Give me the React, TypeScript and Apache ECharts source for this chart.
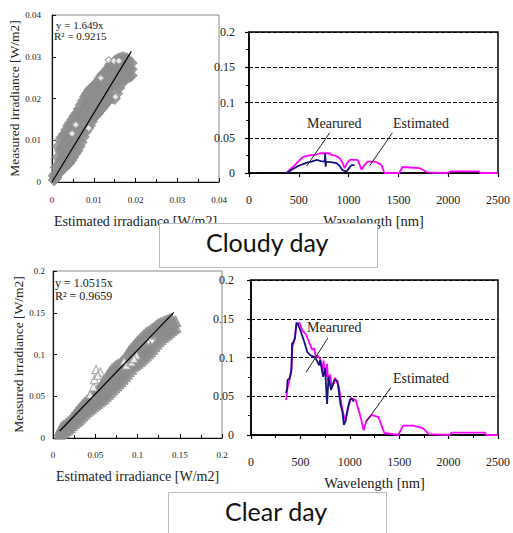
import React, { useEffect, useRef } from "react";
import * as echarts from "echarts";

// ---------- Top (cloudy day) scatter ----------
const cloudyCore: [number, number][] = [
  [0.0005, 0.0005], [0.0005, 0.0015],
  [0.001, 0.001], [0.001, 0.002], [0.001, 0.0035],
  [0.0015, 0.002], [0.0015, 0.004], [0.0015, 0.006], [0.0015, 0.0085],
  [0.002, 0.003], [0.002, 0.005], [0.002, 0.0075], [0.002, 0.01],
  [0.0025, 0.0032], [0.0025, 0.0058], [0.0025, 0.0083], [0.0025, 0.0108],
  [0.003, 0.0035], [0.003, 0.006], [0.003, 0.009], [0.003, 0.0115],
  [0.0035, 0.0042], [0.0035, 0.0068], [0.0035, 0.0098], [0.0035, 0.0125],
  [0.004, 0.0045], [0.004, 0.0075], [0.004, 0.0105], [0.004, 0.0135],
  [0.0045, 0.0052], [0.0045, 0.0082], [0.0045, 0.0112], [0.0045, 0.0142],
  [0.005, 0.006], [0.005, 0.009], [0.005, 0.012], [0.005, 0.015],
  [0.0055, 0.0068], [0.0055, 0.0098], [0.0055, 0.0128], [0.0055, 0.0158],
  [0.006, 0.0075], [0.006, 0.0105], [0.006, 0.0135], [0.006, 0.0165],
  [0.0065, 0.0085], [0.0065, 0.0115], [0.0065, 0.0145], [0.0065, 0.0175],
  [0.007, 0.0095], [0.007, 0.0125], [0.007, 0.0155], [0.007, 0.0185],
  [0.0075, 0.0108], [0.0075, 0.0138], [0.0075, 0.0165], [0.0075, 0.0195],
  [0.008, 0.012], [0.008, 0.015], [0.008, 0.0175], [0.008, 0.0205],
  [0.0085, 0.0128], [0.0085, 0.0158], [0.0085, 0.0185], [0.0085, 0.0212],
  [0.009, 0.0135], [0.009, 0.0165], [0.009, 0.0195], [0.009, 0.022],
  [0.0095, 0.0145], [0.0095, 0.0172], [0.0095, 0.02], [0.0095, 0.0225],
  [0.01, 0.0155], [0.01, 0.018], [0.01, 0.0205], [0.01, 0.0228],
  [0.0105, 0.016], [0.0105, 0.0185], [0.0105, 0.021], [0.0105, 0.0234],
  [0.011, 0.0165], [0.011, 0.019], [0.011, 0.0215], [0.011, 0.024],
  [0.0115, 0.0172], [0.0115, 0.0198], [0.0115, 0.0222], [0.0115, 0.0248],
  [0.012, 0.0178], [0.012, 0.0205], [0.012, 0.023], [0.012, 0.0255],
  [0.0125, 0.0184], [0.0125, 0.0212], [0.0125, 0.0238], [0.0125, 0.026],
  [0.013, 0.019], [0.013, 0.022], [0.013, 0.0245], [0.013, 0.0265],
  [0.0135, 0.0198], [0.0135, 0.0225], [0.0135, 0.025], [0.0135, 0.0272],
  [0.014, 0.0205], [0.014, 0.023], [0.014, 0.0255], [0.014, 0.028],
  [0.0145, 0.0202], [0.0145, 0.0232], [0.0145, 0.026], [0.0145, 0.0284],
  [0.015, 0.02], [0.015, 0.0235], [0.015, 0.0265], [0.015, 0.0288],
  [0.0155, 0.0212], [0.0155, 0.0242], [0.0155, 0.027], [0.0155, 0.0292],
  [0.016, 0.0225], [0.016, 0.025], [0.016, 0.0275], [0.016, 0.0295],
  [0.0165, 0.0235], [0.0165, 0.0258], [0.0165, 0.028], [0.0165, 0.0296],
  [0.017, 0.0245], [0.017, 0.0265], [0.017, 0.0285], [0.017, 0.0298],
  [0.0175, 0.0248], [0.0175, 0.0268], [0.0175, 0.0285], [0.0175, 0.0296],
  [0.018, 0.025], [0.018, 0.027], [0.018, 0.0285], [0.018, 0.0295],
  [0.0185, 0.0252], [0.0185, 0.027], [0.0185, 0.0286],
  [0.019, 0.0255], [0.019, 0.027], [0.019, 0.0285],
];
const cloudyOutliers: [number, number][] = [
  [0.0136, 0.0292], [0.0148, 0.029], [0.016, 0.029], [0.0117, 0.0249],
  [0.0152, 0.0204], [0.0088, 0.0129], [0.0057, 0.0137], [0.0048, 0.0116],
];
const cloudyFit: [number, number][] = [[0, 0], [0.019, 0.0313]];

// ---------- Bottom (clear day) scatter ----------
const clearCore: [number, number][] = [
  [0.008, 0.005], [0.008, 0.009],
  [0.01, 0.006], [0.01, 0.01], [0.01, 0.013],
  [0.0125, 0.0075], [0.0125, 0.0115], [0.0125, 0.015],
  [0.015, 0.009], [0.015, 0.013], [0.015, 0.017],
  [0.0175, 0.011], [0.0175, 0.015], [0.0175, 0.019],
  [0.02, 0.013], [0.02, 0.017], [0.02, 0.021],
  [0.0225, 0.0155], [0.0225, 0.02], [0.0225, 0.0245],
  [0.025, 0.018], [0.025, 0.023], [0.025, 0.028],
  [0.0275, 0.02], [0.0275, 0.0255], [0.0275, 0.031],
  [0.03, 0.022], [0.03, 0.028], [0.03, 0.034],
  [0.0325, 0.0245], [0.0325, 0.0305], [0.0325, 0.037],
  [0.035, 0.027], [0.035, 0.033], [0.035, 0.04],
  [0.0375, 0.0295], [0.0375, 0.0355], [0.0375, 0.0425],
  [0.04, 0.032], [0.04, 0.038], [0.04, 0.045],
  [0.0425, 0.034], [0.0425, 0.0405], [0.0425, 0.0475],
  [0.045, 0.036], [0.045, 0.043], [0.045, 0.05],
  [0.0475, 0.038], [0.0475, 0.045], [0.0475, 0.0525],
  [0.05, 0.04], [0.05, 0.047], [0.05, 0.055],
  [0.0525, 0.042], [0.0525, 0.0495], [0.0525, 0.0575],
  [0.055, 0.044], [0.055, 0.052], [0.055, 0.06],
  [0.0575, 0.046], [0.0575, 0.055], [0.0575, 0.064],
  [0.06, 0.048], [0.06, 0.058], [0.06, 0.068],
  [0.0625, 0.0505], [0.0625, 0.061], [0.0625, 0.072],
  [0.065, 0.053], [0.065, 0.064], [0.065, 0.076],
  [0.0675, 0.0555], [0.0675, 0.067], [0.0675, 0.0795],
  [0.07, 0.058], [0.07, 0.07], [0.07, 0.083],
  [0.0725, 0.0605], [0.0725, 0.0725], [0.0725, 0.085],
  [0.075, 0.063], [0.075, 0.075], [0.075, 0.087],
  [0.0775, 0.0655], [0.0775, 0.077], [0.0775, 0.0885],
  [0.08, 0.068], [0.08, 0.079], [0.08, 0.09],
  [0.0825, 0.071], [0.0825, 0.082], [0.0825, 0.093],
  [0.085, 0.074], [0.085, 0.085], [0.085, 0.096],
  [0.0875, 0.077], [0.0875, 0.0885], [0.0875, 0.1],
  [0.09, 0.08], [0.09, 0.092], [0.09, 0.104],
  [0.0925, 0.083], [0.0925, 0.095], [0.0925, 0.107],
  [0.095, 0.086], [0.095, 0.098], [0.095, 0.11],
  [0.0975, 0.088], [0.0975, 0.1005], [0.0975, 0.113],
  [0.1, 0.09], [0.1, 0.103], [0.1, 0.116],
  [0.1025, 0.092], [0.1025, 0.1055], [0.1025, 0.1185],
  [0.105, 0.094], [0.105, 0.108], [0.105, 0.121],
  [0.1075, 0.0965], [0.1075, 0.109], [0.1075, 0.1235],
  [0.11, 0.099], [0.11, 0.11], [0.11, 0.126],
  [0.1125, 0.1015], [0.1125, 0.1275],
  [0.115, 0.104], [0.115, 0.109], [0.115, 0.129],
  [0.1175, 0.107], [0.1175, 0.131],
  [0.12, 0.11], [0.12, 0.133],
  [0.1225, 0.113], [0.1225, 0.125], [0.1225, 0.135],
  [0.125, 0.116], [0.125, 0.128], [0.125, 0.137],
  [0.1275, 0.1185], [0.1275, 0.1295], [0.1275, 0.138],
  [0.13, 0.121], [0.13, 0.131], [0.13, 0.139],
  [0.1325, 0.123], [0.1325, 0.1325], [0.1325, 0.14],
  [0.135, 0.125], [0.135, 0.134], [0.135, 0.141],
  [0.1375, 0.127], [0.1375, 0.1355], [0.1375, 0.142],
  [0.14, 0.129], [0.14, 0.137], [0.14, 0.143],
  [0.1425, 0.131], [0.1425, 0.1385],
  [0.145, 0.133], [0.145, 0.14],
];
const clearOutliers: [number, number][] = [
  [0.044, 0.052], [0.048, 0.061], [0.049, 0.07], [0.051, 0.082],
  [0.056, 0.079], [0.053, 0.075], [0.087, 0.087], [0.093, 0.091],
  [0.099, 0.099], [0.084, 0.092], [0.096, 0.095],
];
const clearFit: [number, number][] = [[0.008, 0.0084], [0.143, 0.1504]];

// ---------- Spectra ----------
const cloudyEstimated: [number, number][] = [
  [377, 0], [420, 0.006], [460, 0.0113], [500, 0.017], [543, 0.0227], [590, 0.0245],
  [630, 0.0255], [680, 0.0262], [710, 0.028], [760, 0.028], [810, 0.028], [830, 0.0255],
  [870, 0.0245], [910, 0.021], [935, 0.016], [960, 0.007], [985, 0.014], [1010, 0.0185],
  [1050, 0.0185], [1090, 0.0185], [1110, 0.012], [1130, 0.0047], [1160, 0.0113],
  [1190, 0.016], [1260, 0.016], [1300, 0.014], [1330, 0.0113], [1360, 0], [1510, 0],
  [1540, 0.0085], [1620, 0.0078], [1710, 0.007], [1790, 0.001], [1990, 0],
  [2030, 0.0024], [2310, 0.0024], [2320, 0], [2500, 0],
];
const cloudyMeasured: [number, number][] = [
  [377, 0], [420, 0.004], [480, 0.009], [530, 0.012], [580, 0.0147], [630, 0.016],
  [680, 0.0185], [720, 0.017], [760, 0.016], [765, 0.028], [770, 0.009], [775, 0.016],
  [820, 0.0155], [880, 0.014], [910, 0.01], [940, 0.004], [980, 0.002], [1010, 0.008],
  [1030, 0.0113], [1060, 0.0113],
];
const clearEstimated: [number, number][] = [
  [355, 0.045], [370, 0.061], [390, 0.071], [410, 0.088], [420, 0.114], [440, 0.123],
  [460, 0.142], [490, 0.145], [520, 0.135], [560, 0.129], [590, 0.119], [620, 0.11],
  [640, 0.112], [655, 0.1], [670, 0.103], [700, 0.098], [710, 0.093], [725, 0.082],
  [735, 0.096], [740, 0.088], [750, 0.085], [760, 0.075], [770, 0.092], [780, 0.07],
  [790, 0.075], [800, 0.078], [820, 0.062], [840, 0.068], [850, 0.074], [860, 0.071],
  [890, 0.062], [920, 0.036], [950, 0.019], [970, 0.028], [1010, 0.048], [1060, 0.045],
  [1110, 0.023], [1140, 0.006], [1170, 0.019], [1220, 0.026], [1290, 0.023],
  [1350, 0.0026], [1490, 0], [1540, 0.012], [1640, 0.012], [1740, 0.009], [1800, 0.001],
  [2010, 0], [2030, 0.003], [2370, 0.003], [2380, 0], [2500, 0],
];
const clearMeasured: [number, number][] = [
  [355, 0.054], [365, 0.06], [370, 0.071], [390, 0.073], [405, 0.08], [410, 0.085],
  [415, 0.118], [430, 0.12], [445, 0.125], [460, 0.145], [475, 0.143], [500, 0.135],
  [540, 0.12], [570, 0.107], [600, 0.103], [650, 0.1], [670, 0.095], [690, 0.09],
  [700, 0.097], [730, 0.075], [750, 0.086], [770, 0.04], [785, 0.075], [810, 0.058],
  [845, 0.071], [875, 0.07], [905, 0.04], [925, 0.03], [940, 0.013], [960, 0.019],
  [980, 0.035], [1000, 0.045], [1020, 0.047], [1040, 0.043],
];

// annotation arrows (data coordinates): [from, to]
const cloudyArrows: [number, number][][] = [
  [[810, 0.057], [580, 0.01]],
  [[1440, 0.057], [1210, 0.01]],
];
const clearArrows: [number, number][][] = [
  [[777, 0.125], [558, 0.081]],
  [[1414, 0.061], [1165, 0.017]],
];

const SERIF = "Liberation Serif";
const SANS = "Lato";
const plain = (v: number) => String(v);

function scatterX(idx: number, max: number, interval: number, margin: number, gap: number) {
  return {
    type: "value", gridIndex: idx, min: 0, max, interval,
    name: "Estimated irradiance [W/m2]", nameLocation: "middle", nameGap: gap,
    nameTextStyle: { fontFamily: SERIF, fontSize: 14, color: "#222" },
    axisLine: { show: true, lineStyle: { color: "#111", width: 1.2 } },
    axisTick: { show: true, inside: true, length: 4, lineStyle: { color: "#111" } },
    minorTick: { show: true, splitNumber: 2, length: 3, lineStyle: { color: "#111" } },
    axisLabel: { fontFamily: SERIF, fontSize: 9, color: "#222", margin, formatter: plain },
    splitLine: { show: false },
  };
}
function scatterY(idx: number, max: number, interval: number, margin: number, gap: number) {
  return {
    type: "value", gridIndex: idx, min: 0, max, interval,
    name: "Measured irradiance [W/m2]", nameLocation: "middle", nameGap: gap,
    nameTextStyle: { fontFamily: SERIF, fontSize: 13.5, color: "#222" },
    axisLine: { show: true, lineStyle: { color: "#111", width: 1.2 } },
    axisTick: { show: true, inside: true, length: 4, lineStyle: { color: "#111" } },
    axisLabel: { fontFamily: SERIF, fontSize: 9, color: "#222", margin, formatter: plain },
    splitLine: { show: false },
  };
}
function specX(idx: number, minor: boolean) {
  return {
    type: "value", gridIndex: idx, min: 0, max: 2500, interval: 500,
    name: "Wavelength [nm]", nameLocation: "middle", nameGap: 40,
    nameTextStyle: { fontFamily: SERIF, fontSize: 14.5, color: "#222" },
    axisLine: { show: true, lineStyle: { color: "#000", width: 1.5 } },
    axisTick: { show: true, length: 4, lineStyle: { color: "#000", width: 1.2 } },
    minorTick: { show: minor, splitNumber: 2, length: 3, lineStyle: { color: "#000" } },
    axisLabel: { fontFamily: SERIF, fontSize: 12, color: "#222", margin: 21, formatter: plain },
    splitLine: { show: false },
  };
}
function specY(idx: number, margin: number) {
  return {
    type: "value", gridIndex: idx, min: 0, max: 0.2, interval: 0.05,
    axisLine: { show: true, lineStyle: { color: "#000", width: 1.5 } },
    axisTick: { show: true, length: 4, lineStyle: { color: "#000", width: 1.2 } },
    minorTick: { show: true, splitNumber: 2, length: 3, lineStyle: { color: "#000" } },
    axisLabel: { fontFamily: SERIF, fontSize: 12, color: "#222", margin, formatter: plain },
    splitLine: { show: true, lineStyle: { color: "#000", type: [4, 2], width: 1.2 } },
  };
}

function arrowLine(arrows: [number, number][][]) {
  return {
    silent: true,
    symbol: ["none", "arrow"],
    symbolSize: [0, 8],
    label: { show: false },
    lineStyle: { color: "#222", width: 1, type: "solid" },
    data: arrows.map((a) => [{ coord: a[0] }, { coord: a[1] }]),
  };
}

export default function App() {
  const ref = useRef<HTMLDivElement>(null);
  useEffect(() => {
    document.body.style.margin = "0";
    const chart = echarts.init(ref.current!, null, { renderer: "svg" });
    const option: any = {
      animation: false,
      backgroundColor: "#fff",
      grid: [
        { left: 52, top: 15, width: 167, height: 167, show: true, borderColor: "#888", borderWidth: 1 },
        { left: 249, top: 32, width: 252, height: 141, show: true, borderColor: "#000", borderWidth: 1.5 },
        { left: 53, top: 271, width: 169, height: 167, show: true, borderColor: "#888", borderWidth: 1 },
        { left: 251, top: 280, width: 251, height: 155, show: true, borderColor: "#000", borderWidth: 1.5 },
      ],
      xAxis: [
        scatterX(0, 0.04, 0.01, 13, 32),
        specX(1, false),
        scatterX(2, 0.2, 0.05, 12, 31),
        specX(3, true),
      ],
      yAxis: [
        scatterY(0, 0.04, 0.01, 11, 27),
        specY(1, 14),
        scatterY(2, 0.2, 0.05, 8, 28),
        specY(3, 17),
      ],
      series: [
        {
          type: "scatter", xAxisIndex: 0, yAxisIndex: 0, data: cloudyCore,
          symbol: "diamond", symbolSize: 12,
          itemStyle: { color: "#8c8c8c", borderColor: "#8c8c8c", borderWidth: 1 },
        },
        {
          type: "scatter", xAxisIndex: 0, yAxisIndex: 0, data: cloudyOutliers,
          symbol: "diamond", symbolSize: 7,
          itemStyle: { color: "#fff", borderColor: "#999", borderWidth: 1.2 },
        },
        {
          type: "line", xAxisIndex: 0, yAxisIndex: 0, data: cloudyFit, showSymbol: false,
          lineStyle: { color: "#000", width: 1.2 },
        },
        {
          type: "line", xAxisIndex: 1, yAxisIndex: 1, data: cloudyEstimated, showSymbol: false,
          lineStyle: { color: "#ff00ff", width: 1.8 },
        },
        {
          type: "line", xAxisIndex: 1, yAxisIndex: 1, data: cloudyMeasured, showSymbol: false,
          lineStyle: { color: "#14147f", width: 1.8 },
          markLine: arrowLine(cloudyArrows),
        },
        {
          type: "scatter", xAxisIndex: 2, yAxisIndex: 2, data: clearCore,
          symbol: "triangle", symbolSize: 11,
          itemStyle: { color: "#8c8c8c", borderColor: "#8c8c8c", borderWidth: 1 },
        },
        {
          type: "scatter", xAxisIndex: 2, yAxisIndex: 2, data: clearOutliers,
          symbol: "triangle", symbolSize: 8,
          itemStyle: { color: "#fff", borderColor: "#999", borderWidth: 1.2 },
        },
        {
          type: "line", xAxisIndex: 2, yAxisIndex: 2, data: clearFit, showSymbol: false,
          lineStyle: { color: "#000", width: 1.2 },
        },
        {
          type: "line", xAxisIndex: 3, yAxisIndex: 3, data: clearEstimated, showSymbol: false,
          lineStyle: { color: "#ff00ff", width: 1.8 },
        },
        {
          type: "line", xAxisIndex: 3, yAxisIndex: 3, data: clearMeasured, showSymbol: false,
          lineStyle: { color: "#14147f", width: 1.8 },
          markLine: arrowLine(clearArrows),
        },
      ],
      graphic: [
        { type: "text", left: 56, top: 19, style: { text: "y = 1.649x", font: `11px ${SERIF}`, fill: "#222" } },
        { type: "text", left: 54, top: 30, style: { text: "R² = 0.9215", font: `11px ${SERIF}`, fill: "#222" } },
        { type: "text", left: 55, top: 277, style: { text: "y = 1.0515x", font: `12px ${SERIF}`, fill: "#222" } },
        { type: "text", left: 55, top: 290, style: { text: "R² = 0.9659", font: `12px ${SERIF}`, fill: "#222" } },
        { type: "text", left: 307, top: 116, style: { text: "Mearured", font: `14px ${SERIF}`, fill: "#222" } },
        { type: "text", left: 393, top: 116, style: { text: "Estimated", font: `14px ${SERIF}`, fill: "#222" } },
        { type: "text", left: 307, top: 320, style: { text: "Mearured", font: `14px ${SERIF}`, fill: "#222" } },
        { type: "text", left: 393, top: 371, style: { text: "Estimated", font: `14px ${SERIF}`, fill: "#222" } },
        {
          type: "rect", left: 159, top: 223, z: 100,
          shape: { width: 218, height: 44 },
          style: { fill: "#fff", stroke: "#bdbdbd", lineWidth: 1 },
        },
        {
          type: "text", left: 206, top: 229, z: 101,
          style: { text: "Cloudy day", font: `25px ${SANS}`, fill: "#111" },
        },
        {
          type: "rect", left: 168, top: 492, z: 100,
          shape: { width: 218, height: 60 },
          style: { fill: "#fff", stroke: "#bdbdbd", lineWidth: 1 },
        },
        {
          type: "text", left: 225, top: 498, z: 101,
          style: { text: "Clear day", font: `25px ${SANS}`, fill: "#111" },
        },
      ],
    };
    chart.setOption(option);
    return () => chart.dispose();
  }, []);
  return <div ref={ref} style={{ width: 513, height: 533 }} />;
}
